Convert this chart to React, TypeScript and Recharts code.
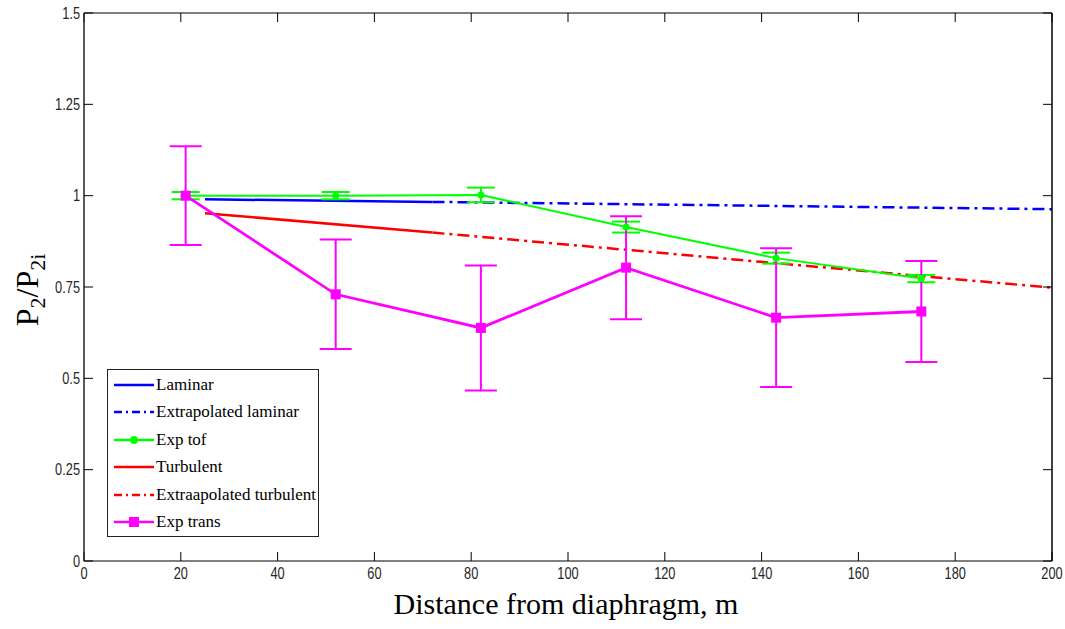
import React from 'react';
import { LineChart, Line, XAxis, YAxis, ErrorBar } from 'recharts';

// theory curves (computed) – solid part and extrapolated part
const laminar = [
  { x: 25, y: 0.99 },
  { x: 72, y: 0.983 },
];
const laminarExtrap = [
  { x: 72, y: 0.983 },
  { x: 200, y: 0.963 },
];
const turbulent = [
  { x: 25, y: 0.952 },
  { x: 72, y: 0.899 },
];
const turbulentExtrap = [
  { x: 72, y: 0.899 },
  { x: 200, y: 0.748 },
];

// experiments
const expTof = [
  { x: 21, y: 1.0, err: 0.01 },
  { x: 52, y: 1.0, err: 0.01 },
  { x: 82, y: 1.002, err: 0.02 },
  { x: 112, y: 0.914, err: 0.015 },
  { x: 143, y: 0.829, err: 0.015 },
  { x: 173, y: 0.773, err: 0.01 },
];
const expTrans = [
  { x: 21, y: 1.0, err: 0.135 },
  { x: 52, y: 0.73, err: 0.15 },
  { x: 82, y: 0.638, err: 0.171 },
  { x: 112, y: 0.803, err: 0.141 },
  { x: 143, y: 0.666, err: 0.19 },
  { x: 173, y: 0.683, err: 0.138 },
];

const xTicks = [0, 20, 40, 60, 80, 100, 120, 140, 160, 180, 200];
const yTicks = [0, 0.25, 0.5, 0.75, 1, 1.25, 1.5];

const BLUE = '#0000ff';
const RED = '#ff0000';
const GREEN = '#00ff00';
const MAGENTA = '#ff00ff';
const DASHDOT = '12 5 3 5';

const serif = "'Liberation Serif', 'Times New Roman', serif";

const legendItems = [
  { name: 'Laminar', color: BLUE, dash: undefined, marker: '' },
  { name: 'Extrapolated laminar', color: BLUE, dash: DASHDOT, marker: '' },
  { name: 'Exp tof', color: GREEN, dash: undefined, marker: 'circle' },
  { name: 'Turbulent', color: RED, dash: undefined, marker: '' },
  { name: 'Extraapolated turbulent', color: RED, dash: DASHDOT, marker: '' },
  { name: 'Exp trans', color: MAGENTA, dash: undefined, marker: 'square' },
];

const squareDot = (p: any) => (
  <rect key={`sq-${p.index}`} x={p.cx - 5} y={p.cy - 5} width={10} height={10} fill={MAGENTA} />
);
const circleDot = (p: any) => (
  <circle key={`ci-${p.index}`} cx={p.cx} cy={p.cy} r={3.5} fill={GREEN} />
);

// matlab-ish condensed tick labels
const NarrowTick = (props: any) => {
  const { x, y, payload, textAnchor, dy } = props;
  return (
    <text
      transform={`translate(${x},${y}) scale(0.8,1)`}
      x={0}
      y={0}
      dy={dy}
      textAnchor={textAnchor}
      fontFamily="'Liberation Sans', Arial, sans-serif"
      fontSize={16}
      fill="#262626"
    >
      {payload.value}
    </text>
  );
};
const leftTick = (p: any) => <NarrowTick {...p} dy="0.35em" />;
const bottomTick = (p: any) => <NarrowTick {...p} dy="0.71em" />;

const noLabel = () => <g />;

export default function App() {
  return (
    <div style={{ position: 'absolute', left: 0, top: 0, width: 1065, height: 629, background: '#fff' }}>
      <LineChart width={1065} height={629} margin={{ top: 12, right: 12, bottom: 67, left: 83 }}>
        <XAxis
          xAxisId="b"
          type="number"
          dataKey="x"
          domain={[0, 200]}
          ticks={xTicks}
          height={1}
          tickSize={-9}
          tickMargin={16}
          tick={bottomTick}
          axisLine={{ stroke: '#555', strokeWidth: 1.5 }}
          tickLine={{ stroke: '#000' }}
          allowDataOverflow
        />
        <XAxis
          xAxisId="t"
          orientation="top"
          type="number"
          dataKey="x"
          domain={[0, 200]}
          ticks={xTicks}
          height={1}
          tickSize={-9}
          tick={noLabel}
          axisLine={{ stroke: '#555', strokeWidth: 1.5 }}
          tickLine={{ stroke: '#000' }}
          allowDataOverflow
        />
        <YAxis
          yAxisId="l"
          type="number"
          domain={[0, 1.5]}
          ticks={yTicks}
          width={1}
          tickSize={-9}
          tickMargin={13}
          tick={leftTick}
          axisLine={{ stroke: '#222', strokeWidth: 1.5 }}
          tickLine={{ stroke: '#000' }}
          allowDataOverflow
        />
        <YAxis
          yAxisId="r"
          orientation="right"
          type="number"
          domain={[0, 1.5]}
          ticks={yTicks}
          width={1}
          tickSize={-9}
          tick={noLabel}
          axisLine={{ stroke: '#000', strokeWidth: 1.5 }}
          tickLine={{ stroke: '#000' }}
          allowDataOverflow
        />
        <Line xAxisId="b" yAxisId="l" data={laminarExtrap} dataKey="y" stroke={BLUE} strokeWidth={2.5} strokeDasharray={DASHDOT} dot={false} isAnimationActive={false} />
        <Line xAxisId="b" yAxisId="l" data={turbulentExtrap} dataKey="y" stroke={RED} strokeWidth={2.5} strokeDasharray={DASHDOT} dot={false} isAnimationActive={false} />
        <Line xAxisId="b" yAxisId="l" data={laminar} dataKey="y" stroke={BLUE} strokeWidth={2.5} dot={false} isAnimationActive={false} />
        <Line xAxisId="b" yAxisId="l" data={turbulent} dataKey="y" stroke={RED} strokeWidth={2.5} dot={false} isAnimationActive={false} />
        <Line xAxisId="b" yAxisId="l" data={expTof} dataKey="y" stroke={GREEN} strokeWidth={2} dot={circleDot} isAnimationActive={false}>
          <ErrorBar dataKey="err" width={14} stroke={GREEN} strokeWidth={2} direction="y" />
        </Line>
        <Line xAxisId="b" yAxisId="l" data={expTrans} dataKey="y" stroke={MAGENTA} strokeWidth={2.8} dot={squareDot} isAnimationActive={false}>
          <ErrorBar dataKey="err" width={16} stroke={MAGENTA} strokeWidth={2} direction="y" />
        </Line>
      </LineChart>

      {/* y axis title */}
      <div
        style={{
          position: 'absolute',
          left: 30,
          top: 290,
          transform: 'translate(-50%, -50%) rotate(-90deg)',
          fontFamily: serif,
          fontSize: 32,
          whiteSpace: 'nowrap',
          color: '#000',
        }}
      >
        P<sub style={{ fontSize: 22 }}>2</sub>/P<sub style={{ fontSize: 22 }}>2i</sub>
      </div>

      {/* x axis title */}
      <div
        style={{
          position: 'absolute',
          left: 566,
          top: 587,
          transform: 'translateX(-50%)',
          fontFamily: serif,
          fontSize: 30,
          whiteSpace: 'nowrap',
          color: '#000',
        }}
      >
        Distance from diaphragm, m
      </div>

      {/* legend */}
      <div
        style={{
          position: 'absolute',
          left: 107,
          top: 369,
          width: 212,
          height: 168,
          border: '1px solid #222',
          background: '#fff',
          fontFamily: serif,
          fontSize: 17,
          color: '#000',
          boxSizing: 'border-box',
          paddingTop: 1,
          whiteSpace: 'nowrap',
        }}
      >
        {legendItems.map((it) => (
          <div key={it.name} style={{ display: 'flex', alignItems: 'center', height: 27.5 }}>
            <svg width={40} height={12} style={{ marginLeft: 6, flex: 'none' }}>
              <line x1={0} y1={6} x2={40} y2={6} stroke={it.color} strokeWidth={2.5} strokeDasharray={it.dash ? '8 4 2 4' : undefined} />
              {it.marker === 'circle' && <circle cx={20} cy={6} r={4} fill={it.color} />}
              {it.marker === 'square' && <rect x={15} y={1} width={10} height={10} fill={it.color} />}
            </svg>
            <span style={{ marginLeft: 2 }}>{it.name}</span>
          </div>
        ))}
      </div>
    </div>
  );
}
